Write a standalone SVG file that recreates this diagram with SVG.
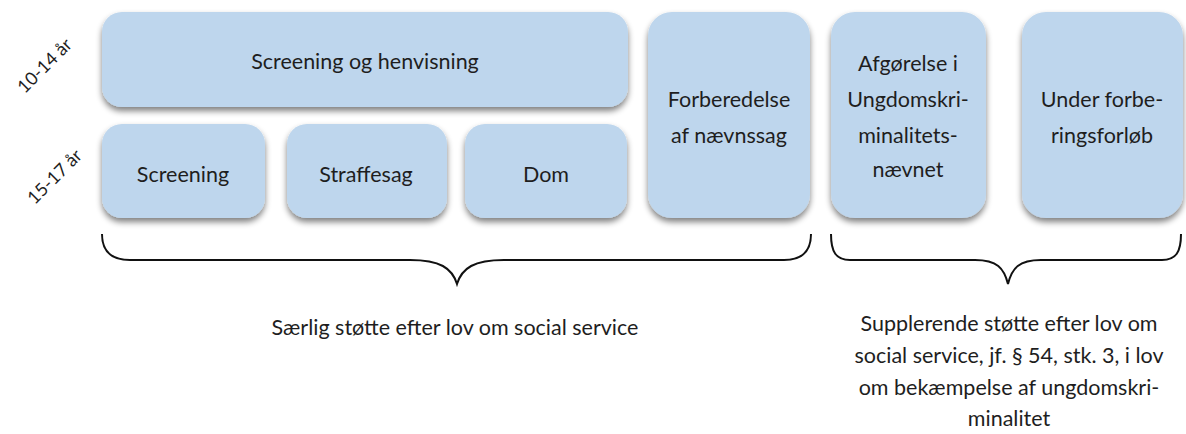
<svg xmlns="http://www.w3.org/2000/svg" width="1186" height="434" viewBox="0 0 1186 434">
<defs>
<filter id="sh" x="-10%" y="-10%" width="120%" height="130%">
<feGaussianBlur in="SourceAlpha" stdDeviation="3"/>
<feOffset dx="0" dy="4" result="b"/>
<feComponentTransfer><feFuncA type="linear" slope="0.5"/></feComponentTransfer>
<feMerge><feMergeNode/><feMergeNode in="SourceGraphic"/></feMerge>
</filter>
</defs>
<style>
.box{fill:#bed6ed;filter:url(#sh)}
text{font-family:Lato,"Open Sans","Liberation Sans",sans-serif;fill:#1e1e1e;text-anchor:middle}
.t{font-size:21.5px}
.l{font-size:21.5px}
.a{font-size:18px}
.brace{fill:none;stroke:#111;stroke-width:2}
</style>
<rect width="1186" height="434" fill="#fff"/>
<g id="age1014"><text class="a" transform="translate(49,70) rotate(-45)">10-14 år</text></g>
<g id="age1517"><text class="a" transform="translate(59,181) rotate(-45)">15-17 år</text></g>
<g id="screening-henvisning"><rect class="box" x="102" y="12" width="526" height="95" rx="20"/><text class="t" x="365" y="69">Screening og henvisning</text></g>
<g id="screening"><rect class="box" x="102" y="124" width="163" height="94" rx="20"/><text class="t" x="183" y="182">Screening</text></g>
<g id="straffesag"><rect class="box" x="287" y="124" width="160" height="94" rx="20"/><text class="t" x="366" y="182">Straffesag</text></g>
<g id="dom"><rect class="box" x="465" y="124" width="162" height="94" rx="20"/><text class="t" x="546" y="182">Dom</text></g>
<g id="forberedelse"><rect class="box" x="648" y="12" width="162" height="206" rx="24"/><text class="t" x="729" y="107">Forberedelse</text><text class="t" x="729" y="143">af nævnssag</text></g>
<g id="afgorelse"><rect class="box" x="831" y="12" width="155" height="206" rx="24"/><text class="t" x="908" y="71">Afgørelse i</text><text class="t" x="908" y="107">Ungdomskri-</text><text class="t" x="908" y="143">minalitets-</text><text class="t" x="908" y="177">nævnet</text></g>
<g id="under"><rect class="box" x="1022" y="12" width="161" height="206" rx="24"/><text class="t" x="1102" y="107">Under forbe-</text><text class="t" x="1102" y="143">ringsforløb</text></g>
<g id="connectors">
<path class="brace" d="M102,234 C102,252 112,260 130,260 L410,260 C440,260 452,268 457,284 C462,268 474,260 504,260 L784,260 C802,260 811,252 811,234"/>
<path class="brace" d="M831,234 C831,252 836,260 850,260 L975,260 C997,260 1004,268 1008,284 C1012,268 1019,260 1041,260 L1162,260 C1176,260 1181,252 1181,234"/>
</g>
<g id="label-left"><text class="l" x="455" y="335">Særlig støtte efter lov om social service</text></g>
<g id="label-right"><text class="l" x="1009" y="331">Supplerende støtte efter lov om</text><text class="l" x="1009" y="363">social service, jf. § 54, stk. 3, i lov</text><text class="l" x="1009" y="395">om bekæmpelse af ungdomskri-</text><text class="l" x="1009" y="426">minalitet</text></g>
</svg>
